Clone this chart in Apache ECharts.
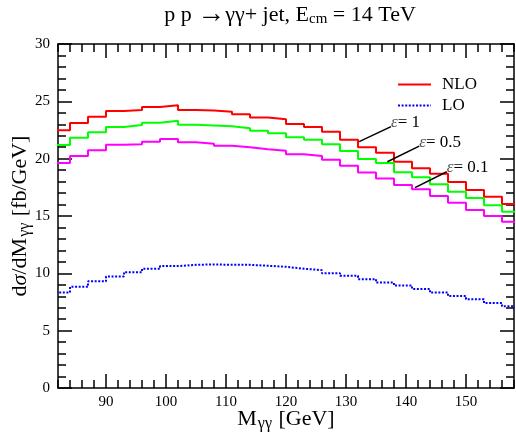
<!DOCTYPE html>
<html>
<head>
<meta charset="utf-8">
<script src="https://cdn.jsdelivr.net/npm/echarts@6/dist/echarts.min.js"></script>
<style>html,body{margin:0;padding:0;background:#fff;}#c{width:516px;height:434px;}</style>
</head>
<body>
<div id="c"></div>
<script>
// Bin edges of the histograms (GeV)
var binEdges = [81,84,87,90,93,96,99,102,105,108,111,114,117,120,123,126,129,132,135,138,141,144,147,150,153,156,159];
// NLO, epsilon = 1 (red)
var nloEps1 = [22.47,23.11,23.66,24.16,24.24,24.5,24.65,24.24,24.19,24.1,23.87,23.6,23.43,23.02,22.76,22.35,21.65,20.99,20.52,19.74,19.16,18.69,17.96,17.27,16.68,16.05];
// NLO, epsilon = 0.5 (green)
var nloEps05 = [21.19,21.83,22.3,22.76,22.93,23.14,23.31,22.96,22.9,22.82,22.65,22.44,22.21,21.86,21.65,21.25,20.67,19.97,19.62,18.81,18.37,17.76,17.12,16.57,15.93,15.38];
// NLO, epsilon = 0.1 (magenta)
var nloEps01 = [19.62,20.23,20.73,21.22,21.25,21.48,21.71,21.43,21.31,21.13,20.99,20.82,20.7,20.38,20.23,19.91,19.39,18.8,18.28,17.7,17.33,16.74,16.16,15.52,15.0,14.5];
// LO (blue dotted)
var loVals = [8.32,8.82,9.31,9.72,10.1,10.4,10.63,10.74,10.78,10.74,10.74,10.66,10.57,10.4,10.28,10.01,9.78,9.49,9.19,8.93,8.64,8.32,8.02,7.74,7.41,7.12];
// tick values
var xMajorTicks = [90,100,110,120,130,140,150];
var yTicks = [0,5,10,15,20,25,30];
// annotation labels and their pointer lines (data coordinates: start, end)
var annoLabels = ['1','0.5','0.1'];
var annoStart = [[132.2,21.48],[136.9,19.73],[141.5,17.47]];
var annoEnd = [[137.5,22.79],[142.2,21.1],[146.8,18.86]];

function toSteps(vals){
  var d = [];
  for (var i = 0; i < vals.length; i++) d.push([binEdges[i], vals[i]]);
  d.push([binEdges[vals.length], vals[vals.length-1]]);
  return d;
}

var FONT = '"Liberation Serif", "DejaVu Serif", serif';
var chart = echarts.init(document.getElementById('c'), null, {renderer:'canvas'});
var axisLine = {show:true, lineStyle:{color:'#000', width:1.5}};
var majTick = {show:true, inside:true, length:14, lineStyle:{color:'#000', width:1.5}, customValues:xMajorTicks};
var minTick = {show:true, inside:true, length:8, lineStyle:{color:'#000', width:1.5}};
var nameRich = {
  n:{fontSize:22, fontFamily:FONT, color:'#000', lineHeight:24},
  g:{fontSize:22, fontFamily:FONT, fontStyle:'italic', color:'#000', lineHeight:24},
  s:{fontSize:16, fontFamily:FONT, color:'#000', padding:[10,1,0,1]}
};

function xAx(pos, major, labels){
  var a = {type:'value', min:82, max:158, position:pos, gridIndex:0,
    axisLine: major ? axisLine : {show:false},
    splitLine:{show:false},
    axisLabel:{show:false}};
  if (major) { a.axisTick = majTick; }
  else { a.interval = 2; a.axisTick = minTick; }
  if (labels) {
    a.axisLabel = {show:true, customValues:xMajorTicks, color:'#000', fontFamily:FONT, fontSize:15, margin:7};
    a.name = '{n|M}{s|γγ}{n| [GeV]}';
    a.nameLocation = 'middle';
    a.nameMoveOverlap = false;
    a.nameGap = 18;
    a.nameTextStyle = {color:'#000', fontFamily:FONT, rich:nameRich};
  }
  return a;
}
function yAx(pos, labels){
  var a = {type:'value', min:0, max:30, interval:5, position:pos,
    axisLine:axisLine,
    axisTick:{show:true, inside:true, length:14, lineStyle:{color:'#000', width:1.5}},
    minorTick:{show:true, splitNumber:5, length:8, lineStyle:{color:'#000', width:1.5}},
    splitLine:{show:false}, minorSplitLine:{show:false},
    axisLabel:{show:labels, color:'#000', fontFamily:FONT, fontSize:15, margin:8}};
  if (labels) {
    a.name = '{n|d}{g|σ}{n|/dM}{s|γγ}{n| [fb/GeV]}';
    a.nameLocation = 'middle';
    a.nameRotate = 90;
    a.nameMoveOverlap = false;
    a.nameGap = 25;
    a.nameTextStyle = {color:'#000', fontFamily:FONT, rich:nameRich};
  }
  return a;
}

var option = {
  backgroundColor:'#fff',
  animation:false,
  title:{
    text:'{n|p p }{a|→}{n|γγ+ jet, E}{s|cm}{n| = 14 TeV}',
    left:285, textAlign:'center', top:-2,
    textStyle:{fontFamily:FONT, fontWeight:'normal', color:'#000', rich:{
      n:{fontSize:22, fontFamily:FONT, fontWeight:'normal', color:'#000', lineHeight:24},
      a:{fontSize:28, fontFamily:FONT, fontWeight:'normal', color:'#000', lineHeight:24},
      s:{fontSize:15, fontFamily:FONT, fontWeight:'normal', color:'#000', padding:[9,0,0,0]}}}
  },
  grid:{left:58, right:2, top:44, bottom:46, containLabel:false, outerBoundsMode:'none'},
  legend:{
    data:['NLO','LO'], orient:'vertical', left:397, top:76, padding:0,
    itemWidth:33, itemHeight:12, itemGap:4,
    itemStyle:{opacity:0},
    textStyle:{fontFamily:FONT, fontSize:17, color:'#000', padding:[0,0,0,6]}
  },
  xAxis:[xAx('bottom',true,true), xAx('bottom',false,false), xAx('top',true,false), xAx('top',false,false)],
  yAxis:[yAx('left',true), yAx('right',false)],
  series:[
    {name:'NLO', type:'line', step:'end', symbol:'none', data:toSteps(nloEps1),
      lineStyle:{color:'#ff0000', width:2}, itemStyle:{color:'#ff0000'}},
    {name:'NLO ε=0.5', type:'line', step:'end', symbol:'none', data:toSteps(nloEps05),
      lineStyle:{color:'#00ff00', width:2}, itemStyle:{color:'#00ff00'}},
    {name:'NLO ε=0.1', type:'line', step:'end', symbol:'none', data:toSteps(nloEps01),
      lineStyle:{color:'#ff00ff', width:2}, itemStyle:{color:'#ff00ff'}},
    {name:'LO', type:'line', step:'end', symbol:'none', data:toSteps(loVals),
      lineStyle:{color:'#0000ff', width:2, type:[2,1.6]}, itemStyle:{color:'#0000ff'}}
  ]
};
chart.setOption(option);

var g = [];
for (var i = 0; i < annoLabels.length; i++) {
  var p0 = chart.convertToPixel({xAxisIndex:0, yAxisIndex:0}, annoStart[i]);
  var p1 = chart.convertToPixel({xAxisIndex:0, yAxisIndex:0}, annoEnd[i]);
  g.push({type:'line', shape:{x1:p0[0], y1:p0[1], x2:p1[0], y2:p1[1]}, style:{stroke:'#000', lineWidth:1.5}, z:100});
  g.push({type:'text', x:p1[0], y:p1[1]-4, z:100, style:{
    text:'{e|ε}{t|= ' + annoLabels[i] + '}', verticalAlign:'middle', align:'left',
    rich:{e:{fontFamily:FONT, fontStyle:'italic', fontSize:17, fill:'#555'},
          t:{fontFamily:FONT, fontSize:17, fill:'#000'}}}});
}
chart.setOption({graphic:g});
</script>
</body>
</html>
